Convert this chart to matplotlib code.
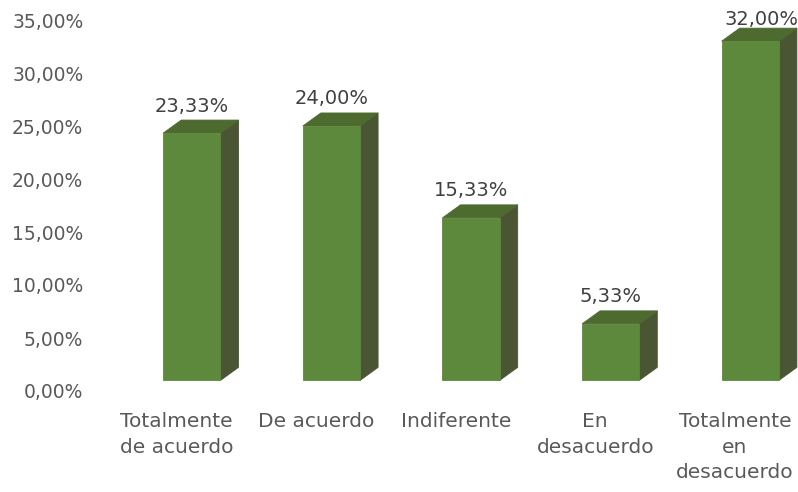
import matplotlib
matplotlib.use("Agg")
import matplotlib.pyplot as plt
from matplotlib.patches import Polygon
from matplotlib.ticker import FuncFormatter

categorias = ["Totalmente\nde acuerdo", "De acuerdo", "Indiferente",
              "En\ndesacuerdo", "Totalmente\nen\ndesacuerdo"]
valores = [23.33, 24.00, 15.33, 5.33, 32.00]
etiquetas = ["23,33%", "24,00%", "15,33%", "5,33%", "32,00%"]

# colores de las caras
c_frente = "#5c893b"
c_arriba = "#4d6a2f"
c_lado = "#4a5533"

plt.rcParams["font.family"] = "DejaVu Sans"

fig = plt.figure(figsize=(7.98, 4.92), dpi=100)
# 0% en y=391 px, 10.6 px por punto porcentual
ax = fig.add_axes([100 / 798, (492 - 391) / 492, 698 / 798, 391 / 492])
ax.set_xlim(-76.5 / 139.6, (798 - 176.5) / 139.6)
ax.set_ylim(0, 391 / 10.6)

base = 1.0     # suelo del efecto 3D
ancho = 0.41
desp = 0.11
dx = 0.129
dy = 1.23

for i, v in enumerate(valores):
    x0 = i + desp - ancho / 2
    x1 = i + desp + ancho / 2
    y0 = base
    y1 = base + v
    lado = Polygon([(x1, y0), (x1 + dx, y0 + dy), (x1 + dx, y1 + dy), (x1, y1)],
                   closed=True, facecolor=c_lado, edgecolor=c_lado, lw=0.6)
    arriba = Polygon([(x0, y1), (x0 + dx, y1 + dy), (x1 + dx, y1 + dy), (x1, y1)],
                     closed=True, facecolor=c_arriba, edgecolor=c_arriba, lw=0.6)
    frente = Polygon([(x0, y0), (x1, y0), (x1, y1), (x0, y1)],
                     closed=True, facecolor=c_frente, edgecolor=c_frente, lw=0.6)
    ax.add_patch(lado)
    ax.add_patch(arriba)
    ax.add_patch(frente)
    xt = i + desp
    yt = y1 + dy + 0.8
    if i == len(valores) - 1:
        # la ultima etiqueta queda algo desplazada
        xt += 0.08
        yt -= 0.5
    ax.text(xt, yt, etiquetas[i], ha="center", va="baseline",
            fontsize=14, color="#404040", clip_on=False)

ax.set_yticks([0, 5, 10, 15, 20, 25, 30, 35])
ax.yaxis.set_major_formatter(FuncFormatter(lambda y, p: ("%.2f%%" % y).replace(".", ",")))
ax.set_xticks(range(len(categorias)))
ax.set_xticklabels(categorias, linespacing=1.45)
ax.tick_params(axis="y", length=0, pad=12, labelsize=13.5, labelcolor="#595959")
ax.tick_params(axis="x", length=0, pad=15, labelsize=14.5, labelcolor="#595959")
for s in ax.spines.values():
    s.set_visible(False)

fig.savefig("out.png", dpi=100)
